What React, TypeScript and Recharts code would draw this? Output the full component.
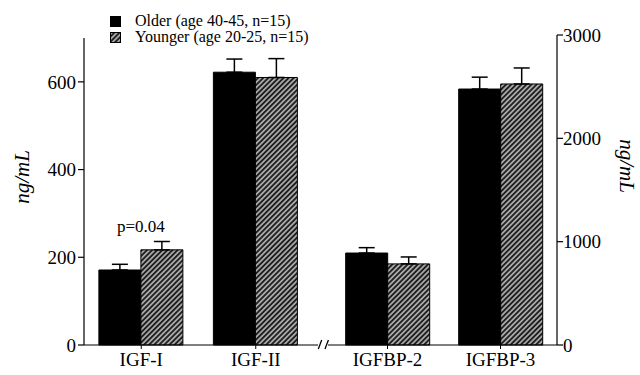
import React from 'react';
import { BarChart, Bar, XAxis, YAxis, ErrorBar, Legend, LabelList } from 'recharts';

const leftCategories = ['IGF-I', 'IGF-II'];
const rightCategories = ['IGFBP-2', 'IGFBP-3'];
const olderLeft = [171, 622];
const olderLeftErr = [13, 30];
const youngerLeft = [217, 610];
const youngerLeftErr = [19, 43];
const olderRight = [890, 2477];
const olderRightErr = [52, 115];
const youngerRight = [785, 2526];
const youngerRightErr = [67, 155];
const leftTicks = [0, 200, 400, 600];
const leftMinorTicks = [100, 300, 500];
const rightTicks = [0, 1000, 2000, 3000];
const rightMinorTicks = [500, 1500, 2500];
const pLabels = ['p=0.04', ''];
const seriesNames = ['Older (age 40-45, n=15)', 'Younger (age 20-25, n=15)'];
const axisTitle = 'ng/mL';

const FONT = "'Liberation Serif', 'Times New Roman', 'DejaVu Serif', serif";

const leftData = leftCategories.map((c, i) => ({
  name: c,
  older: olderLeft[i],
  olderErr: [0, olderLeftErr[i]],
  younger: youngerLeft[i],
  youngerErr: [0, youngerLeftErr[i]],
  p: pLabels[i],
}));

const rightData = rightCategories.map((c, i) => ({
  name: c,
  older: olderRight[i],
  olderErr: [0, olderRightErr[i]],
  younger: youngerRight[i],
  youngerErr: [0, youngerRightErr[i]],
}));

const tickStyle = { fill: '#000', fontSize: 19, fontFamily: FONT, style: { fontFamily: FONT } };

const PLabel = (props: any) => {
  const { x, y, value } = props;
  if (!value) return null;
  return (
    <text x={x} y={y - 23} textAnchor="middle" dominantBaseline="central" fontSize={17} style={{ fontFamily: FONT }} fill="#000">
      {value}
    </text>
  );
};

const LegendContent = (props: any) => {
  const payload = props.payload || [];
  return (
    <div style={{ fontFamily: FONT, fontSize: 16, lineHeight: '16px', color: '#000' }}>
      {payload.map((e: any, i: number) => (
        <div key={i} style={{ display: 'flex', alignItems: 'center', height: 16, whiteSpace: 'nowrap' }}>
          <svg width={11} height={11} style={{ marginRight: 14, flex: 'none' }}>
            <rect x={0.5} y={0.5} width={10} height={10} fill={e.color} stroke="#000" strokeWidth={1} />
          </svg>
          <span>{e.value}</span>
        </div>
      ))}
    </div>
  );
};

export default function App() {
  return (
    <div style={{ position: 'absolute', left: 0, top: 0, width: 640, height: 375, background: '#fff', fontFamily: FONT }}>
      <svg width={0} height={0} style={{ position: 'absolute' }}>
        <defs>
          <pattern id="hatch" patternUnits="userSpaceOnUse" width={3.6} height={3.6} patternTransform="rotate(45)">
            <rect x={0} y={0} width={3.6} height={3.6} fill="#1e1e1e" />
            <line x1={1.8} y1={0} x2={1.8} y2={3.6} stroke="#ffffff" strokeWidth={1.1} />
          </pattern>
        </defs>
      </svg>

      <div style={{ position: 'absolute', left: 0, top: 0 }}>
        <BarChart
          width={318}
          height={375}
          data={leftData}
          margin={{ top: 38, right: 0, bottom: 0, left: 0 }}
          barCategoryGap="13%"
          barGap={0}
          style={{ fontFamily: FONT }}
        >
          <YAxis
            yAxisId="minor"
            orientation="left"
            mirror
            width={0}
            type="number"
            domain={[0, 700]}
            ticks={leftMinorTicks}
            tick={false}
            tickSize={3}
            axisLine={false}
            tickLine={{ stroke: '#000' }}
          />
          <YAxis
            yAxisId="main"
            orientation="left"
            width={84}
            type="number"
            domain={[0, 700]}
            ticks={leftTicks}
            tick={tickStyle}
            tickSize={6}
            tickMargin={2}
            axisLine={{ stroke: '#000', strokeWidth: 1.2 }}
            tickLine={{ stroke: '#000', strokeWidth: 1.2 }}
          />
          <XAxis
            dataKey="name"
            height={30}
            padding={{ left: 0, right: 5 }}
            tick={tickStyle}
            tickSize={4}
            tickMargin={4}
            axisLine={{ stroke: '#000', strokeWidth: 1.2 }}
            tickLine={{ stroke: '#000' }}
            interval={0}
          />
          <Legend
            layout="vertical"
            align="center"
            verticalAlign="middle"
            content={LegendContent}
            wrapperStyle={{ position: 'absolute', left: 110, top: 13, width: 300 }}
          />
          <Bar yAxisId="main" dataKey="older" name={seriesNames[0]} fill="#000" stroke="#000" isAnimationActive={false}>
            <ErrorBar dataKey="olderErr" width={8} stroke="#000" strokeWidth={1.5} />
          </Bar>
          <Bar yAxisId="main" dataKey="younger" name={seriesNames[1]} fill="url(#hatch)" stroke="#000" isAnimationActive={false}>
            <ErrorBar dataKey="youngerErr" width={8} stroke="#000" strokeWidth={1.5} />
            <LabelList dataKey="p" content={PLabel} />
          </Bar>
        </BarChart>
      </div>

      <div style={{ position: 'absolute', left: 0, top: 0 }}>
        <BarChart
          width={640}
          height={375}
          data={rightData}
          margin={{ top: 35, right: 0, bottom: 0, left: 328 }}
          barCategoryGap="13%"
          barGap={0}
          style={{ fontFamily: FONT }}
        >
          <YAxis
            yAxisId="minor"
            orientation="right"
            mirror
            width={0}
            type="number"
            domain={[0, 3000]}
            ticks={rightMinorTicks}
            tick={false}
            tickSize={3}
            axisLine={false}
            tickLine={{ stroke: '#000' }}
          />
          <YAxis
            yAxisId="main"
            orientation="right"
            width={83}
            type="number"
            domain={[0, 3000]}
            ticks={rightTicks}
            tick={tickStyle}
            tickSize={6}
            tickMargin={0}
            axisLine={{ stroke: '#000', strokeWidth: 1.2 }}
            tickLine={{ stroke: '#000', strokeWidth: 1.2 }}
          />
          <XAxis
            dataKey="name"
            height={30}
            padding={{ left: 3, right: 0 }}
            tick={tickStyle}
            tickSize={4}
            tickMargin={4}
            axisLine={{ stroke: '#000', strokeWidth: 1.2 }}
            tickLine={{ stroke: '#000' }}
            interval={0}
          />
          <Bar yAxisId="main" dataKey="older" name={seriesNames[0]} fill="#000" stroke="#000" isAnimationActive={false}>
            <ErrorBar dataKey="olderErr" width={8} stroke="#000" strokeWidth={1.5} />
          </Bar>
          <Bar yAxisId="main" dataKey="younger" name={seriesNames[1]} fill="url(#hatch)" stroke="#000" isAnimationActive={false}>
            <ErrorBar dataKey="youngerErr" width={8} stroke="#000" strokeWidth={1.5} />
          </Bar>
        </BarChart>
      </div>

      <svg width={640} height={375} style={{ position: 'absolute', left: 0, top: 0, pointerEvents: 'none' }}>
        <text
          x={22}
          y={177}
          transform="rotate(-90 22 177)"
          textAnchor="middle"
          dominantBaseline="central"
          style={{ fontFamily: FONT, fontStyle: 'italic' }}
          fontSize={21}
          fill="#000"
        >
          {axisTitle}
        </text>
        <text
          x={627}
          y={166}
          transform="rotate(90 627 166)"
          textAnchor="middle"
          dominantBaseline="central"
          style={{ fontFamily: FONT, fontStyle: 'italic' }}
          fontSize={21}
          fill="#000"
        >
          {axisTitle}
        </text>
        <line x1={318.3} y1={349} x2={321.7} y2={340} stroke="#000" strokeWidth={1.3} />
        <line x1={325} y1={349} x2={328.4} y2={340} stroke="#000" strokeWidth={1.3} />
      </svg>
    </div>
  );
}
